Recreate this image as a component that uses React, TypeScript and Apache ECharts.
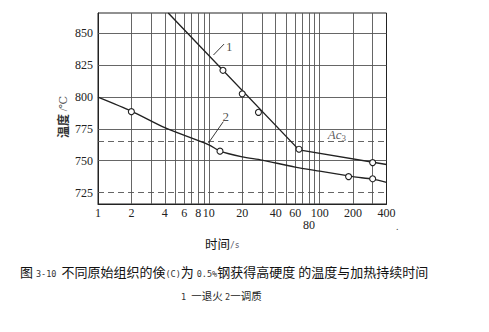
import React, { useEffect, useRef } from "react";
import * as echarts from "echarts";

// Time axis (s, log scale) grid positions and labels
const timeGrid = [2, 3, 4, 5, 6, 7, 8, 9, 10, 20, 30, 40, 50, 60, 70, 80, 90, 100, 200, 300];
const timeLabels = [1, 2, 4, 6, 8, 10, 20, 40, 60, 100, 200, 400];
const timeLabelsLow = [80];

// Temperature grid (°C)
const tempGrid = [750, 775, 800, 825, 850];
const tempDashed = [725];
const ac3Temp = 765;

// Curve 1 — annealed
const annealCurve: [number, number][] = [[4.3, 866], [65, 758.5], [400, 747]];
const annealPoints: [number, number][] = [[13.4, 821], [20, 802.5], [28, 788], [65, 759], [300, 748.5]];

// Curve 2 — quenched & tempered
const temperCurve: [number, number][] = [
  [1, 800], [2, 789], [4, 776], [10, 762.5], [12.6, 757.5], [20, 753],
  [30, 750.5], [60, 745], [100, 741.8], [200, 737.5], [300, 735.5], [400, 733],
];
const temperPoints: [number, number][] = [[2, 788.5], [12.6, 757.5], [182, 737.5], [300, 735.8]];

// Curve labels and their leader lines
const curveLabels: { name: string; pos: [number, number] }[] = [
  { name: "1", pos: [15.3, 840] },
  { name: "2", pos: [14.2, 784.5] },
];
const leader1: [number, number][] = [[11, 833], [13.7, 841.6]];
const leader2: [number, number][] = [[9.9, 763.8], [13.5, 780.7]];
const ac3Pos: [number, number] = [143, 770.5];

const INK = "#222";
const GRID = "#555";
const SERIF = "'Liberation Serif', 'DejaVu Serif', serif";
const CJK = "'Noto Sans CJK SC', sans-serif";
const MONO = "'DejaVu Sans Mono', monospace";

export default function App() {
  const ref = useRef<HTMLDivElement>(null);

  useEffect(() => {
    if (!ref.current) return;
    const chart = echarts.init(ref.current, null, { renderer: "svg" });

    const vLines = [...timeLabels, ...timeGrid, ...timeLabelsLow]
      .filter((v, i, a) => a.indexOf(v) === i)
      .map((v) => {
        const main = timeLabels.includes(v);
        const low = timeLabelsLow.includes(v);
        return {
          xAxis: v,
          lineStyle: { color: v === 1 || v === 400 ? INK : GRID, width: 0.9, type: "solid" },
          label: {
            show: main || low,
            formatter: String(v),
            position: "start",
            distance: low ? 15 : 3,
            color: INK,
            fontFamily: SERIF,
            fontSize: 12,
          },
        };
      });

    const noLabel = { show: false };
    const hLines = [
      ...tempGrid.map((v) => ({ yAxis: v, label: noLabel, lineStyle: { color: GRID, width: 0.9, type: "solid" } })),
      ...tempDashed.map((v) => ({ yAxis: v, label: noLabel, lineStyle: { color: GRID, width: 0.9, type: [6, 4] } })),
      { yAxis: ac3Temp, label: noLabel, lineStyle: { color: GRID, width: 0.9, type: [6, 4] } },
    ];

    chart.setOption({
      animation: false,
      backgroundColor: "#fff",
      grid: {
        left: 98,
        right: 102.5,
        top: 13,
        bottom: 128,
        show: true,
        borderColor: INK,
        borderWidth: 1,
      },
      xAxis: {
        type: "log",
        logBase: 10,
        min: 1,
        max: 400,
        axisLine: { show: true, lineStyle: { color: INK } },
        axisTick: { show: false },
        axisLabel: { show: false },
        splitLine: { show: false },
        minorSplitLine: { show: false },
      },
      yAxis: {
        type: "value",
        min: 716,
        max: 866,
        interval: 1,
        axisLine: { show: true, lineStyle: { color: INK } },
        axisTick: { show: false },
        splitLine: { show: false },
        axisLabel: {
          margin: 5,
          color: INK,
          fontFamily: SERIF,
          fontSize: 12,
          formatter: (v: number) => (v % 25 === 0 ? String(v) : ""),
        },
      },
      series: [
        {
          type: "line",
          data: temperCurve,
          smooth: 0.25,
          symbol: "none",
          lineStyle: { color: INK, width: 1.4 },
          z: 3,
          markLine: {
            silent: true,
            symbol: ["none", "none"],
            label: { show: false },
            data: [...vLines, ...hLines],
            z: 1,
          },
        },
        {
          type: "line",
          data: annealCurve,
          symbol: "none",
          lineStyle: { color: INK, width: 1.4 },
          z: 3,
        },
        {
          type: "scatter",
          data: [...annealPoints, ...temperPoints],
          symbol: "circle",
          symbolSize: 6,
          itemStyle: { color: "#fff", borderColor: INK, borderWidth: 1.1, opacity: 1 },
          z: 5,
        },
        {
          type: "line",
          data: leader1,
          symbol: "none",
          lineStyle: { color: INK, width: 0.9 },
          z: 4,
        },
        {
          type: "line",
          data: leader2,
          symbol: "none",
          lineStyle: { color: INK, width: 0.9 },
          z: 4,
        },
        {
          type: "scatter",
          symbolSize: 0,
          data: curveLabels.map((c) => ({ value: c.pos, name: c.name })),
          label: {
            show: true,
            position: "inside",
            formatter: (p: any) => p.name,
            color: INK,
            fontFamily: SERIF,
            fontSize: 13,
          },
          z: 6,
        },
        {
          type: "scatter",
          symbolSize: 0,
          data: [{ value: ac3Pos, name: "Ac3" }],
          label: {
            show: true,
            position: "inside",
            formatter: "{a|Ac}{s|3}",
            rich: {
              a: { fontFamily: SERIF, fontStyle: "italic", fontSize: 13, color: "#333" },
              s: { fontFamily: SERIF, fontSize: 9, color: "#333", padding: [6, 0, 0, 0] },
            },
          },
          z: 6,
        },
      ],
      graphic: [
        {
          type: "text",
          x: 62,
          y: 117,
          rotation: Math.PI / 2,
          style: {
            text: "{c|温度}{s| /℃}",
            align: "center",
            verticalAlign: "middle",
            rich: {
              c: { fontFamily: CJK, fontSize: 12, fontWeight: "bold", fill: "#333" },
              s: { fontFamily: SERIF, fontSize: 11, fill: "#555", padding: [2, 0, 0, 0] },
            },
          },
        },
        {
          type: "text",
          x: 205,
          y: 243,
          style: {
            text: "{c|时间}{s|/s}",
            align: "left",
            verticalAlign: "middle",
            rich: {
              c: { fontFamily: CJK, fontSize: 12.5, fill: "#111" },
              s: { fontFamily: MONO, fontSize: 8, fill: "#556", padding: [5, 0, 0, 0] },
            },
          },
        },
        {
          type: "text",
          x: 396,
          y: 226,
          style: { text: ".", fontFamily: SERIF, fontSize: 10, fill: "#444", verticalAlign: "middle" },
        },
        {
          type: "text",
          x: 20,
          y: 271,
          style: {
            text:
              "{c|图 }{a|3-10 }{c|不同原始组织的倹}{a|(C)}{c|为 }{a|0.5%}{c|钢获得高硬度 的温度与加热持续时间}",
            align: "left",
            verticalAlign: "middle",
            rich: {
              c: { fontFamily: CJK, fontSize: 13, fill: "#111" },
              a: { fontFamily: MONO, fontSize: 8.5, fill: "#333", padding: [5, 0, 0, 0] },
            },
          },
        },
        {
          type: "text",
          x: 181,
          y: 295,
          style: {
            text: "{a|1 }{c|一退火 }{a|2}{c|一调质}",
            align: "left",
            verticalAlign: "middle",
            rich: {
              c: { fontFamily: CJK, fontSize: 10.5, fill: "#222" },
              a: { fontFamily: MONO, fontSize: 8.5, fill: "#333", padding: [3, 0, 0, 0] },
            },
          },
        },
      ],
    });

    return () => chart.dispose();
  }, []);

  return (
    <div
      ref={ref}
      style={{ position: "fixed", left: 0, top: 0, width: 489, height: 332, background: "#fff" }}
    />
  );
}
